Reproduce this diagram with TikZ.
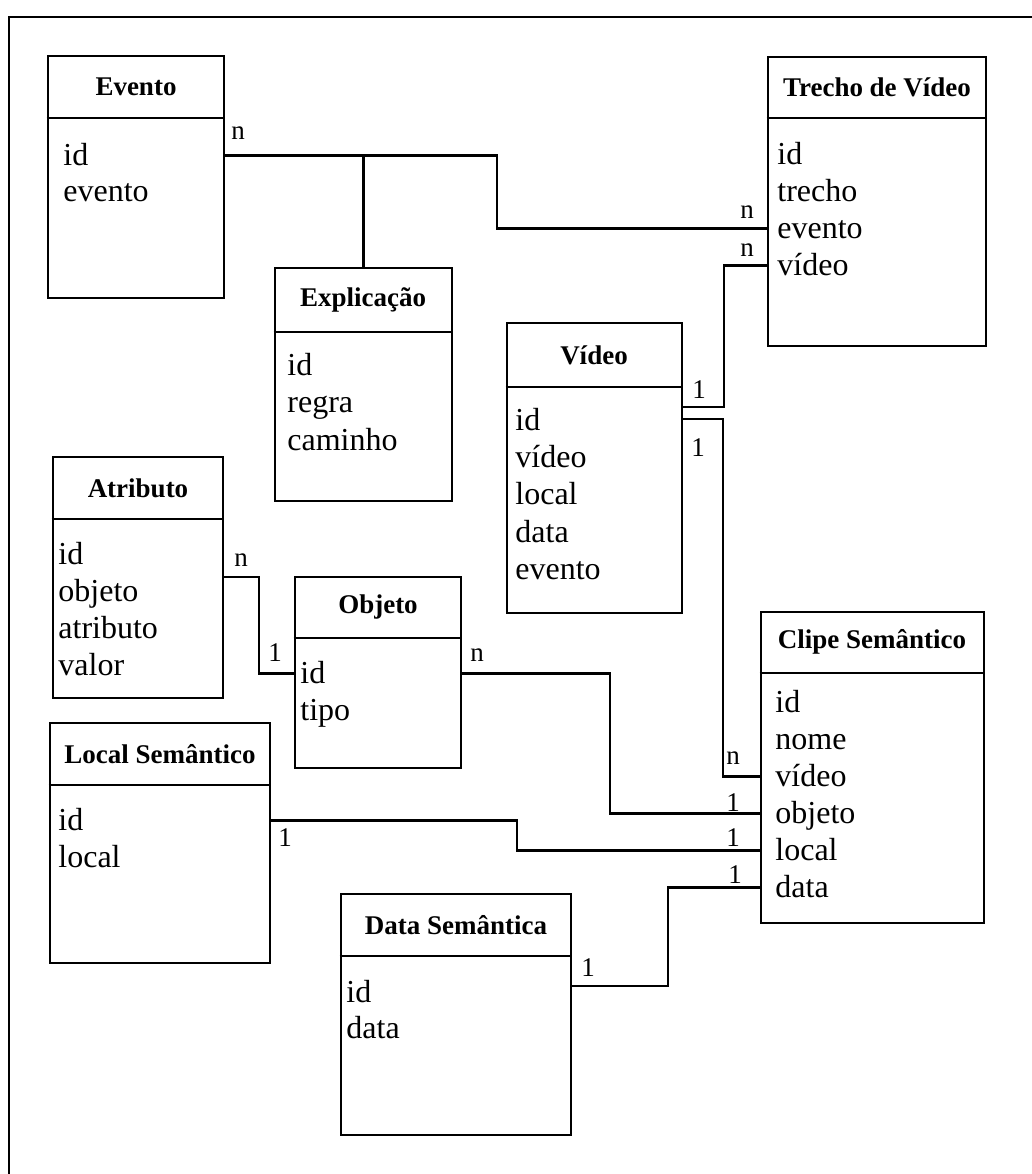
\documentclass[tikz,border=0pt]{standalone}
\usepackage{fontspec}
\setmainfont{Liberation Serif}
\usetikzlibrary{calc,fit}

\tikzset{
	caixa/.style={draw, line width=1.3pt, inner sep=0pt},
	titulo/.style={inner sep=0pt, font=\fontsize{13.5}{16}\selectfont\bfseries},
	campo/.style={anchor=base west, inner sep=0pt, text height=12pt, text depth=2.4pt, font=\fontsize{16}{19}\selectfont},
	card/.style={inner sep=0pt, font=\fontsize{13.5}{16}\selectfont},
	liga/.style={line width=1.1pt},
}

\begin{document}
\begin{tikzpicture}[x=0.5pt, y=-0.5pt]
			%%%%% START %%%%%
			\useasboundingbox (0,0) rectangle (1032,1174);
			\draw[line width=1.2pt] (1032,17) -- (9,17) -- (9,1174);
			
			% Evento
			\node[caixa, fit={(48,56) (224,298)}] (evento) {};
			\draw[line width=1.3pt] (evento.west |- 0,118) -- (evento.east |- 0,118);
			\node[titulo] (evento-t) at (136,87) {Evento};
			\node[campo] (ev-id) at (63,165) {id};
			\node[campo] (ev-evento) at (63,201) {evento};
			
			% Trecho de Video
			\node[caixa, fit={(768,57) (986,346)}] (trecho) {};
			\draw[line width=1.3pt] (trecho.west |- 0,118) -- (trecho.east |- 0,118);
			\node[titulo] (trecho-t) at (877,87) {Trecho de Vídeo};
			\node[campo] (tv-id) at (777,164) {id};
			\node[campo] (tv-trecho) at (777,201) {trecho};
			\node[campo] (tv-evento) at (777,238) {evento};
			\node[campo] (tv-video) at (777,275) {vídeo};
			
			% Explicacao
			\node[caixa, fit={(275,268) (452,501)}] (explicacao) {};
			\draw[line width=1.3pt] (explicacao.west |- 0,332) -- (explicacao.east |- 0,332);
			\node[titulo] (explicacao-t) at (363,300) {Explicação};
			\node[campo] (ex-id) at (287,375) {id};
			\node[campo] (ex-regra) at (287,412) {regra};
			\node[campo] (ex-caminho) at (287,450) {caminho};
			
			% Video
			\node[caixa, fit={(507,323) (682,613)}] (video) {};
			\draw[line width=1.3pt] (video.west |- 0,387) -- (video.east |- 0,387);
			\node[titulo] (video-t) at (594,355) {Vídeo};
			\node[campo] (vi-id) at (515,430) {id};
			\node[campo] (vi-video) at (515,467) {vídeo};
			\node[campo] (vi-local) at (515,504) {local};
			\node[campo] (vi-data) at (515,542) {data};
			\node[campo] (vi-evento) at (515,579) {evento};
			
			% Atributo
			\node[caixa, fit={(53,457) (223,698)}] (atributo) {};
			\draw[line width=1.3pt] (atributo.west |- 0,519) -- (atributo.east |- 0,519);
			\node[titulo] (atributo-t) at (138,488) {Atributo};
			\node[campo] (at-id) at (58,564) {id};
			\node[campo] (at-objeto) at (58,601) {objeto};
			\node[campo] (at-atributo) at (58,638) {atributo};
			\node[campo] (at-valor) at (58,675) {valor};
			
			% Objeto
			\node[caixa, fit={(295,577) (461,768)}] (objeto) {};
			\draw[line width=1.3pt] (objeto.west |- 0,638) -- (objeto.east |- 0,638);
			\node[titulo] (objeto-t) at (378,607) {Objeto};
			\node[campo] (ob-id) at (300,683) {id};
			\node[campo] (ob-tipo) at (300,720) {tipo};
			
			% Local Semantico
			\node[caixa, fit={(50,723) (270,963)}] (local) {};
			\draw[line width=1.3pt] (local.west |- 0,785) -- (local.east |- 0,785);
			\node[titulo] (local-t) at (160,754) {Local Semântico};
			\node[campo] (ls-id) at (58,830) {id};
			\node[campo] (ls-local) at (58,867) {local};
			
			% Clipe Semantico
			\node[caixa, fit={(761,612) (984,923)}] (clipe) {};
			\draw[line width=1.3pt] (clipe.west |- 0,673) -- (clipe.east |- 0,673);
			\node[titulo] (clipe-t) at (872,642) {Clipe Semântico};
			\node[campo] (cs-id) at (775,712) {id};
			\node[campo] (cs-nome) at (775,749) {nome};
			\node[campo] (cs-video) at (775,786) {vídeo};
			\node[campo] (cs-objeto) at (775,823) {objeto};
			\node[campo] (cs-local) at (775,860) {local};
			\node[campo] (cs-data) at (775,897) {data};
			
			% Data Semantica
			\node[caixa, fit={(341,894) (571,1135)}] (dados) {};
			\draw[line width=1.3pt] (dados.west |- 0,956) -- (dados.east |- 0,956);
			\node[titulo] (dados-t) at (456,925) {Data Semântica};
			\node[campo] (ds-id) at (346,1002) {id};
			\node[campo] (ds-data) at (346,1038) {data};
			
			% ligacoes
			\coordinate (v1) at ($(video.north east)+(0,85)$);
			\coordinate (v2) at ($(video.north east)+(0,97)$);
			\coordinate (a1) at ($(atributo.north east)+(0,121)$);
			\coordinate (d1) at ($(dados.north east)+(0,93)$);
			
			\draw[liga] (evento.east |- ev-id) -- ++(272,0) |- (trecho.west |- tv-evento);
			\draw[liga] (explicacao.north) -- (explicacao.north |- ev-id);
			\draw[liga] (trecho.west |- tv-video) -- ++(-43,0) |- (v1);
			\draw[liga] (v2) -- ++(40,0) |- (clipe.west |- cs-video);
			\draw[liga] (a1) -- ++(35,0) |- (objeto.west |- ob-id);
			\draw[liga] (objeto.east |- ob-id) -- ++(148,0) |- (clipe.west |- cs-objeto);
			\draw[liga] (local.east |- ls-id) -- ++(246,0) |- (clipe.west |- cs-local);
			\draw[liga] (d1) -- ++(96,0) |- (clipe.west |- cs-data);
			
			% cardinalidades
			\node[card] (c1) at (238,133) {n};
			\node[card] (c2) at (747,212) {n};
			\node[card] (c3) at (747,250) {n};
			\node[card] (c4) at (699,390) {1};
			\node[card] (c5) at (698,448) {1};
			\node[card] (c6) at (733,758) {n};
			\node[card] (c7) at (733,803) {1};
			\node[card] (c8) at (733,838) {1};
			\node[card] (c9) at (735,875) {1};
			\node[card] (c10) at (241,560) {n};
			\node[card] (c11) at (275,653) {1};
			\node[card] (c12) at (477,655) {n};
			\node[card] (c13) at (285,838) {1};
			\node[card] (c14) at (588,968) {1};
			%%%%% END %%%%%
\end{tikzpicture}
\end{document}
